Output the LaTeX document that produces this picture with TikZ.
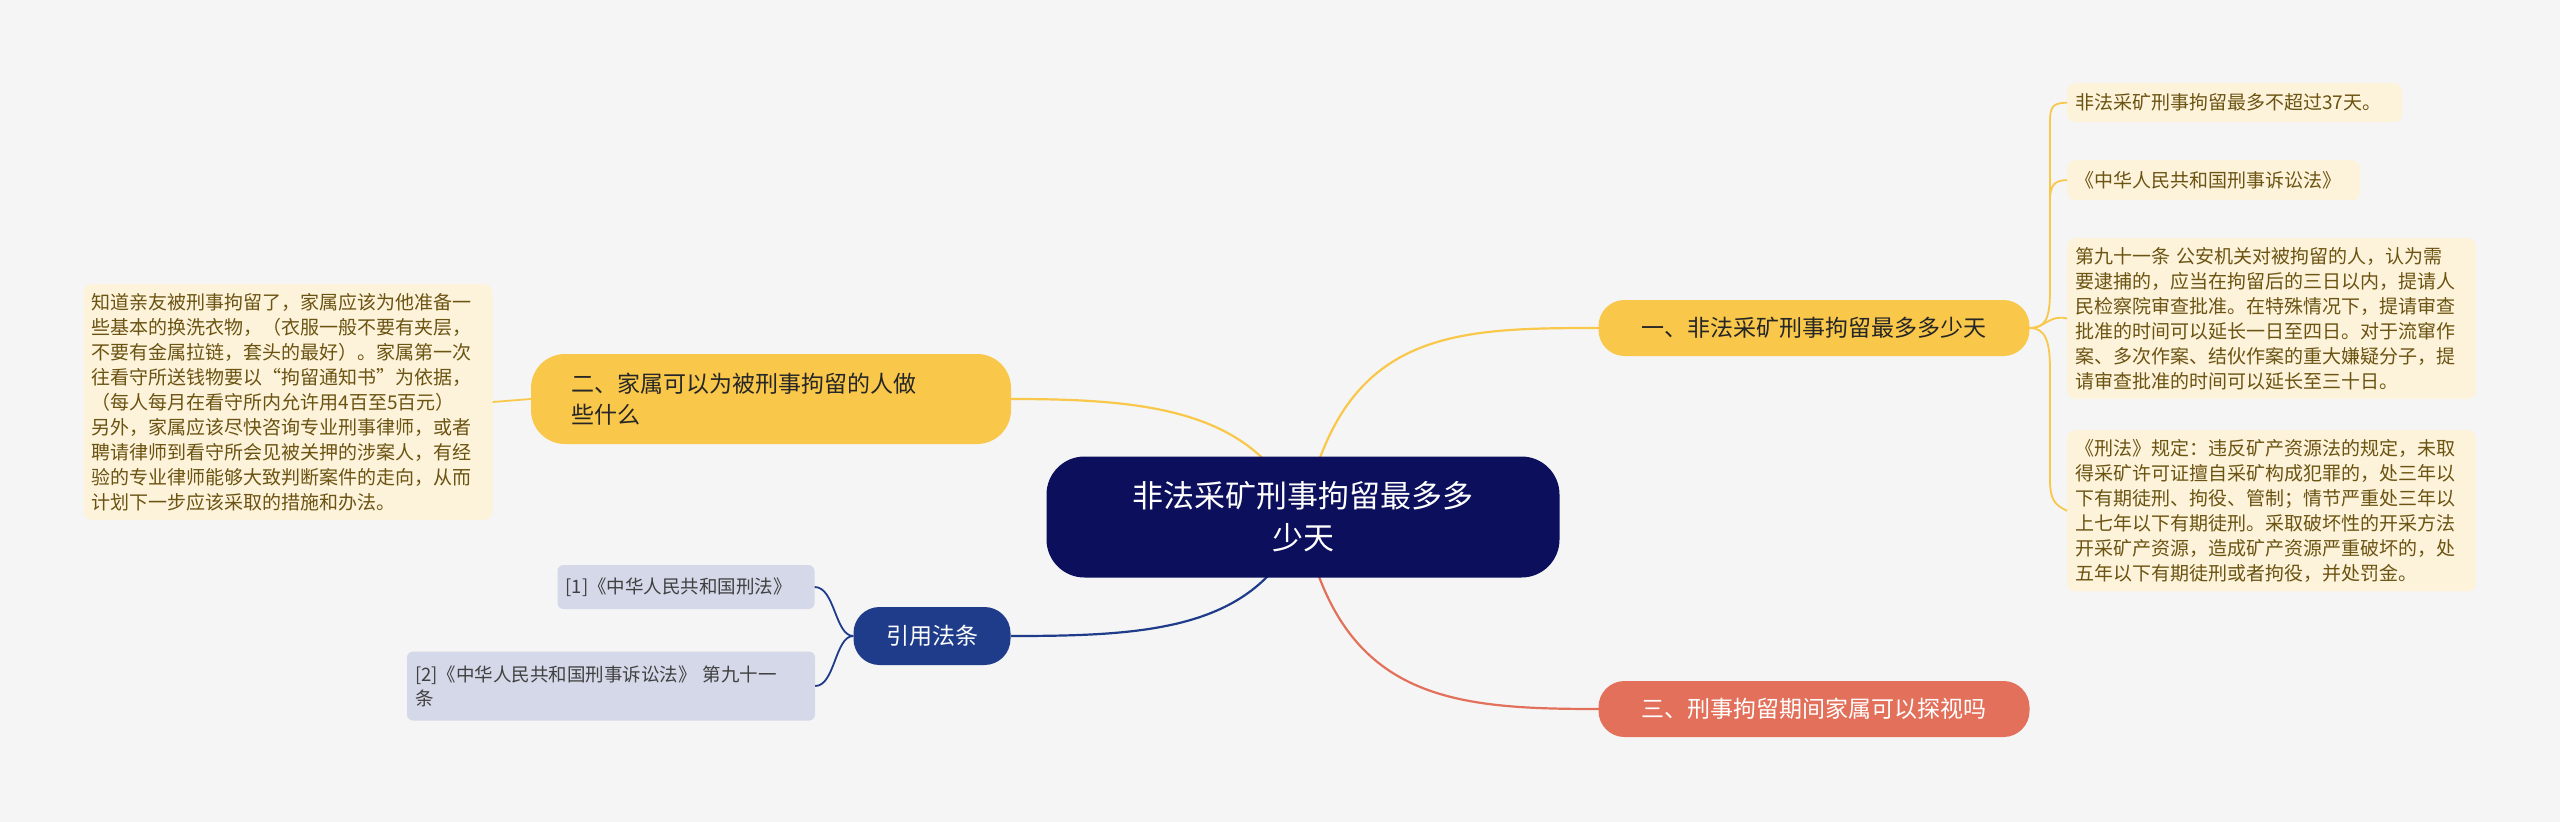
\documentclass[tikz,border=0pt]{standalone}
\usepackage{fontspec}
\setmainfont{Noto Sans CJK SC}
\definecolor{bg}{HTML}{F5F5F5}
\definecolor{navy}{HTML}{0B0F5C}
\definecolor{ylw}{HTML}{F9C84A}
\definecolor{sal}{HTML}{E3705A}
\definecolor{blu}{HTML}{1F3C8A}
\definecolor{leafy}{HTML}{FDF3DA}
\definecolor{leafb}{HTML}{D4D8E8}
\definecolor{brn}{HTML}{6B5312}
\tikzset{
 x=1pt,y=-1pt,
 leaf/.style={fill=leafy,rounded corners=8pt,text=brn,font=\fontsize{19}{25}\selectfont,align=left,inner xsep=8pt,inner ysep=9pt,anchor=north west},
 leafb/.style={fill=leafb,rounded corners=6pt,text=black!75,font=\fontsize{18.5}{24}\selectfont,align=left,inner xsep=8pt,inner ysep=7pt},
 br/.style={rounded corners=26pt,font=\fontsize{23}{31}\selectfont,align=left},
 con/.style={line width=2.2pt},
}
\begin{document}
\begin{tikzpicture}
\fill[bg] (0,0) rectangle (2560,822);
\useasboundingbox (0,0) rectangle (2560,822);
% connectors
\coordinate (c) at (1303,520);
\draw[con,ylw] (c) .. controls (1340,330) and (1450,328) .. (1599,328);
\draw[con,sal] (c) .. controls (1340,700) and (1450,709) .. (1599,709);
\draw[con,ylw] (c) .. controls (1260,410) and (1150,399) .. (1011,399);
\draw[con,blu] (c) .. controls (1260,630) and (1150,636) .. (1011,636);
% center
\node[fill=navy,text=white,rounded corners=38pt,minimum width=513pt,minimum height=121pt,font=\fontsize{31}{42}\selectfont,align=center] (ctr) at (1303,517) {非法采矿刑事拘留最多多\\少天};
% branches
\node[br,fill=ylw,minimum width=431pt,minimum height=56pt,text=black!85,align=center] (b1) at (1814,328) {一、非法采矿刑事拘留最多多少天};
\node[br,fill=sal,minimum width=431pt,minimum height=56pt,text=white,align=center] (b3) at (1814,709) {三、刑事拘留期间家属可以探视吗};
\node[br,fill=ylw,text width=400pt,inner xsep=40pt,minimum height=90pt,text=black!85,rounded corners=34pt] (b2) at (771,399) {二、家属可以为被刑事拘留的人做\\些什么};
\node[br,fill=blu,minimum width=157pt,minimum height=58pt,text=white,rounded corners=26pt,align=center] (b4) at (932,636) {引用法条};
% right leaves
\node[leaf,text width=319pt,minimum height=39pt] (l1) at (2067,83) {非法采矿刑事拘留最多不超过37天。};
\node[leaf,text width=277pt,minimum height=40pt] (l2) at (2067,160) {《中华人民共和国刑事诉讼法》};
\node[leaf,text width=393pt] (l3) at (2067,238) {第九十一条 公安机关对被拘留的人，认为需\\要逮捕的，应当在拘留后的三日以内，提请人\\民检察院审查批准。在特殊情况下，提请审查\\批准的时间可以延长一日至四日。对于流窜作\\案、多次作案、结伙作案的重大嫌疑分子，提\\请审查批准的时间可以延长至三十日。};
\node[leaf,text width=393pt] (l4) at (2067,430) {《刑法》规定：违反矿产资源法的规定，未取\\得采矿许可证擅自采矿构成犯罪的，处三年以\\下有期徒刑、拘役、管制；情节严重处三年以\\上七年以下有期徒刑。采取破坏性的开采方法\\开采矿产资源，造成矿产资源严重破坏的，处\\五年以下有期徒刑或者拘役，并处罚金。};
\draw[con,ylw,line width=1.8pt] (b1.east) .. controls (2045,328) and (2050,320) .. (2050,290) -- (2050,120) .. controls (2050,105) and (2055,103) .. (l1.west);
\draw[con,ylw,line width=1.8pt] (2050,200) .. controls (2050,185) and (2055,180) .. (l2.west);
\draw[con,ylw,line width=1.8pt] (b1.east) .. controls (2045,328) and (2050,314) .. (l3.west);
\draw[con,ylw,line width=1.8pt] (b1.east) .. controls (2045,328) and (2050,340) .. (2050,370) -- (2050,480) .. controls (2050,500) and (2055,505) .. (l4.west);
% left leaf
\node[leaf,anchor=center,text width=393pt] (l5) at (288,402) {知道亲友被刑事拘留了，家属应该为他准备一\\些基本的换洗衣物，（衣服一般不要有夹层，\\不要有金属拉链，套头的最好）。家属第一次\\往看守所送钱物要以“拘留通知书”为依据，\\（每人每月在看守所内允许用4百至5百元）\\另外，家属应该尽快咨询专业刑事律师，或者\\聘请律师到看守所会见被关押的涉案人，有经\\验的专业律师能够大致判断案件的走向，从而\\计划下一步应该采取的措施和办法。};
\draw[con,ylw,line width=1.8pt] (b2.west) -- (l5.east);
% citation leaves
\node[leafb,text width=241pt,minimum height=44pt] (r1) at (686,587) {[1]《中华人民共和国刑法》};
\node[leafb,text width=392pt,minimum height=69pt] (r2) at (611,686) {[2]《中华人民共和国刑事诉讼法》 第九十一\\条};
\draw[con,blu,line width=1.8pt] (b4.west) .. controls (835,636) and (835,587) .. (r1.east);
\draw[con,blu,line width=1.8pt] (b4.west) .. controls (835,636) and (835,686) .. (r2.east);
\end{tikzpicture}
\end{document}
